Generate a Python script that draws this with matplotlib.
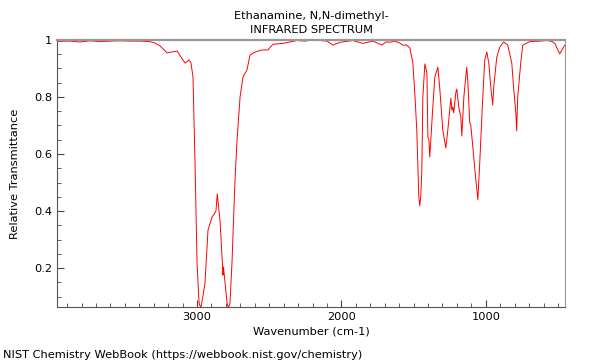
import matplotlib
matplotlib.use("Agg")
import matplotlib.pyplot as plt
from matplotlib.ticker import MultipleLocator, FixedLocator, FuncFormatter
import numpy as np

# wavenumber (cm-1) and relative transmittance
wavenumber = [3969, 3879, 3810, 3740, 3671, 3602, 3533, 3464, 3394, 3325,
              3291, 3256, 3208, 3173, 3138, 3111, 3083, 3055, 3042, 3028,
              3014, 3000, 2986, 2974, 2958, 2945, 2924, 2896, 2882, 2869,
              2860, 2841, 2827, 2820, 2817, 2806, 2792, 2782, 2772, 2758,
              2737, 2723, 2702, 2682, 2654, 2633, 2613, 2578, 2543, 2509,
              2474, 2405, 2356, 2308, 2253, 2218, 2149, 2100, 2059, 2010,
              1920, 1851, 1782, 1720, 1692, 1664, 1630, 1595, 1575, 1547,
              1526, 1505, 1491, 1478, 1464, 1457, 1450, 1443, 1436, 1422,
              1408, 1401, 1394, 1388, 1381, 1367, 1353, 1332, 1318, 1298,
              1277, 1263, 1242, 1235, 1228, 1222, 1208, 1201, 1187, 1173,
              1166, 1152, 1132, 1125, 1111, 1104, 1090, 1069, 1055, 1042,
              1021, 1007, 993, 979, 965, 952, 945, 924, 903, 876,
              848, 820, 806, 792, 786, 779, 758, 744, 696, 627,
              578, 543, 522, 488, 453]
transmittance = [0.995, 0.996, 0.993, 0.997, 0.994, 0.996, 0.997, 0.996, 0.996, 0.994,
                 0.989, 0.979, 0.955, 0.958, 0.961, 0.940, 0.919, 0.930, 0.919, 0.870,
                 0.568, 0.218, 0.077, 0.060, 0.105, 0.147, 0.333, 0.379, 0.389, 0.400,
                 0.460, 0.368, 0.239, 0.175, 0.204, 0.147, 0.077, 0.060, 0.077, 0.218,
                 0.509, 0.649, 0.800, 0.870, 0.895, 0.947, 0.954, 0.961, 0.965, 0.965,
                 0.985, 0.988, 0.993, 0.998, 0.996, 0.999, 0.998, 0.996, 0.982, 0.992,
                 0.998, 0.988, 0.996, 0.982, 0.993, 0.992, 0.996, 0.989, 0.982, 0.982,
                 0.972, 0.919, 0.807, 0.684, 0.449, 0.418, 0.456, 0.544, 0.800, 0.916,
                 0.884, 0.660, 0.649, 0.589, 0.649, 0.765, 0.870, 0.905, 0.825, 0.684,
                 0.621, 0.684, 0.796, 0.754, 0.765, 0.744, 0.814, 0.828, 0.765, 0.730,
                 0.663, 0.800, 0.905, 0.860, 0.709, 0.702, 0.625, 0.509, 0.439, 0.568,
                 0.800, 0.930, 0.958, 0.919, 0.832, 0.772, 0.835, 0.940, 0.975, 0.993,
                 0.982, 0.919, 0.825, 0.744, 0.681, 0.800, 0.919, 0.982, 0.994, 0.996,
                 0.998, 0.995, 0.988, 0.951, 0.982]

fig = plt.figure(figsize=(6, 3.6), dpi=100)
ax = fig.add_axes([0.095, 0.147, 0.847, 0.742])
ax.plot(wavenumber, transmittance, color='red', lw=0.7)

ax.set_xlim(3970, 450)
ax.set_ylim(0.063, 1.0)
ax.xaxis.set_major_locator(FixedLocator([3000, 2000, 1000]))
ax.xaxis.set_minor_locator(MultipleLocator(100))
ax.yaxis.set_major_locator(FixedLocator([0.2, 0.4, 0.6, 0.8, 1.0]))
ax.yaxis.set_minor_locator(MultipleLocator(0.05))
ax.yaxis.set_major_formatter(FuncFormatter(lambda v, p: f'{v:g}'))
ax.tick_params(which='both', direction='in', labelsize=8.2, color='#444')
ax.tick_params(which='major', length=5)
ax.tick_params(which='minor', length=3)

for side in ['left', 'bottom']:
    ax.spines[side].set_color('#555')
for side in ['top', 'right']:
    ax.spines[side].set_color('#999')
ax.spines['top'].set_linewidth(1.6)

ax.set_xlabel('Wavenumber (cm-1)', fontsize=8.2, labelpad=3)
ax.set_ylabel('Relative Transmittance', fontsize=8.2, labelpad=10)
ax.set_title('Ethanamine, N,N-dimethyl-\nINFRARED SPECTRUM', fontsize=8.2, pad=5,
             linespacing=1.5)
fig.text(0.005, 0.005, 'NIST Chemistry WebBook (https://webbook.nist.gov/chemistry)',
         fontsize=8.2)

fig.savefig('out.png')
